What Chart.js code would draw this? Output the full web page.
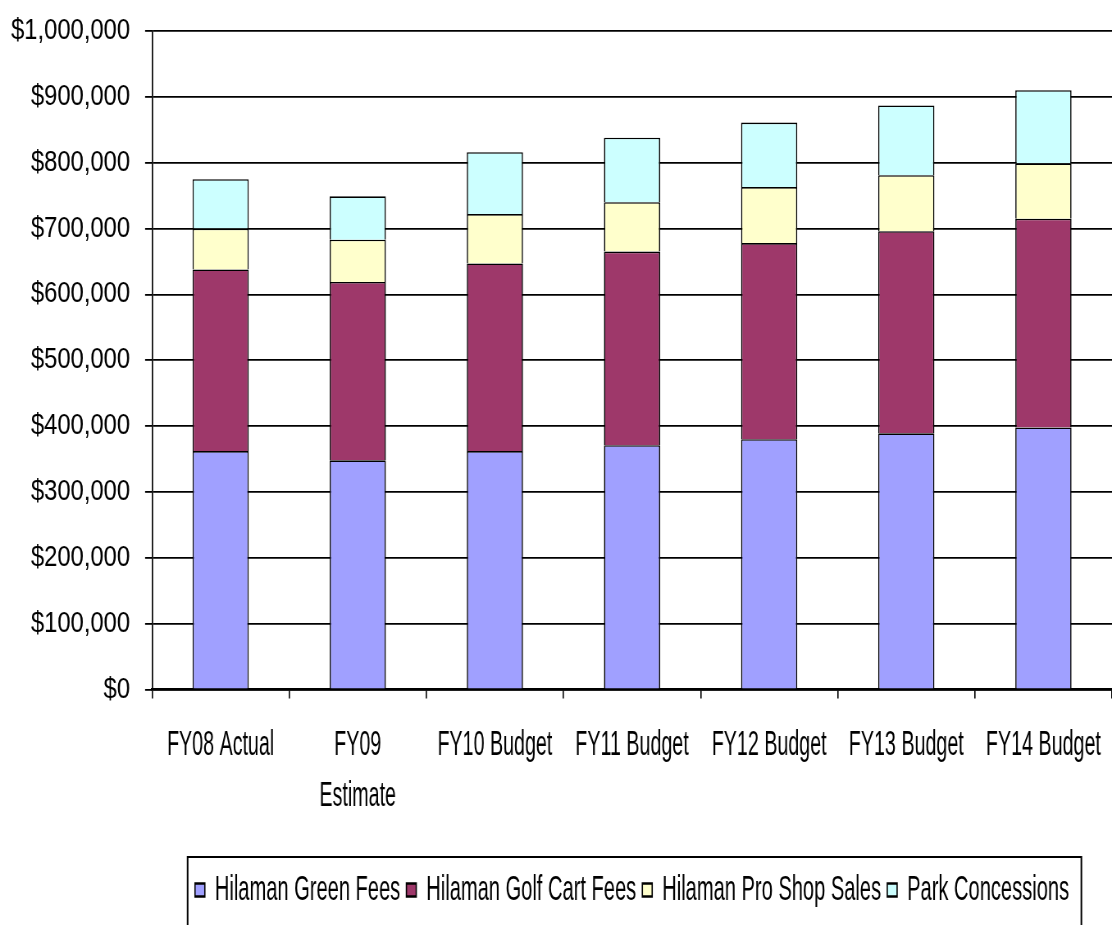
<!DOCTYPE html>
<html>
<head>
<meta charset="utf-8">
<title>Golf Course and Park Revenue</title>
<script src="https://cdn.jsdelivr.net/npm/chart.js@4/dist/chart.umd.min.js"></script>
<style>
  html, body { margin: 0; padding: 0; background: #ffffff; overflow: hidden; }
  /* The drawing surface is wider than its box, so every glyph comes out
     condensed like the narrow face of the original spreadsheet chart. */
  #c { display: block; width: 1112px; height: 925px; }
</style>
</head>
<body>
<canvas id="c" width="1356" height="925" style="width:1112px;height:925px"></canvas>
<script>
// Fiscal years shown along the x axis
const categories = ['FY08 Actual', ['FY09', 'Estimate'], 'FY10 Budget', 'FY11 Budget', 'FY12 Budget', 'FY13 Budget', 'FY14 Budget'];

// Revenue by source, in dollars
const greenFees    = [362000, 348000, 362000, 371000, 380000, 389000, 398000];
const cartFees     = [276000, 271000, 285000, 294000, 298000, 307000, 317000];
const proShopSales = [ 62000,  64000,  75000,  75000,  85000,  85000,  84000];
const concessions  = [ 75000,  66000,  94000,  98000,  98000, 106000, 111000];

const seriesNames = ['Hilaman Green Fees', 'Hilaman Golf Cart Fees', 'Hilaman Pro Shop Sales', 'Park Concessions'];

// Value axis
const yMin = 0;
const yMax = 1000000;
const yStep = 100000;

const FONT = "'Liberation Sans', Arial, sans-serif";
const TALL = 1.45;        // vertical stretch of category and legend lettering
const LABEL_DROP = 19.4;  // extra gap between the axis ticks and the category labels

// Category axis whose labels are drawn in tall lettering
class TallCategoryScale extends Chart.CategoryScale {
  drawLabels(chartArea) {
    const o = this.options;
    const f = Chart.helpers.toFont(o.ticks.font);
    const y0 = this.top + (o.grid.drawTicks ? o.grid.tickLength : 0) + o.ticks.padding + f.lineHeight / 2;
    const ctx = this.ctx;
    ctx.save();
    ctx.translate(0, y0 + LABEL_DROP);
    ctx.scale(1, TALL);
    ctx.translate(0, -y0);
    super.drawLabels(chartArea);
    ctx.restore();
  }
}
TallCategoryScale.id = 'tallCategory';
TallCategoryScale.defaults = Chart.CategoryScale.defaults;
Chart.register(TallCategoryScale);

// Tall legend lettering plus the frame drawn round the legend
const legendStyle = {
  id: 'legendStyle',
  beforeDraw(chart) {
    const lg = chart.legend;
    if (!lg || lg._tallPatched) return;
    const baseDraw = lg.draw.bind(lg);
    lg.draw = function (area) {
      const boxes = this.legendHitBoxes || [];
      if (!boxes.length) { baseDraw(area); return; }
      const cy = boxes[0].top + boxes[0].height / 2;
      const c = this.ctx;
      c.save();
      c.translate(0, cy);
      c.scale(1, TALL);
      c.translate(0, -cy);
      baseDraw(area);
      c.restore();
    };
    lg._tallPatched = true;
  },
  afterDraw(chart) {
    const lg = chart.legend;
    if (!lg || !lg.legendHitBoxes || !lg.legendHitBoxes.length) return;
    const boxes = lg.legendHitBoxes;
    let l = Infinity, r = -Infinity;
    boxes.forEach(b => {
      l = Math.min(l, b.left);
      r = Math.max(r, b.left + b.width);
    });
    const cy = boxes[0].top + boxes[0].height / 2;
    const ctx = chart.ctx;
    ctx.save();
    ctx.strokeStyle = '#000000';
    ctx.lineWidth = 2;
    ctx.strokeRect(l - 9, cy - 33, (r - l) + 24, 80);
    ctx.restore();
  }
};

new Chart(document.getElementById('c'), {
  type: 'bar',
  data: {
    labels: categories,
    datasets: [
      { label: seriesNames[0], data: greenFees,    backgroundColor: '#A0A0FF', borderColor: '#000000', borderWidth: 1.6 },
      { label: seriesNames[1], data: cartFees,     backgroundColor: '#9E386A', borderColor: '#000000', borderWidth: 1.6 },
      { label: seriesNames[2], data: proShopSales, backgroundColor: '#FFFFCC', borderColor: '#000000', borderWidth: 1.6 },
      { label: seriesNames[3], data: concessions,  backgroundColor: '#CCFFFF', borderColor: '#000000', borderWidth: 1.6 }
    ]
  },
  options: {
    responsive: false,
    animation: false,
    devicePixelRatio: 1,
    layout: { padding: { top: 31, left: 0, right: 0, bottom: 12.75 } },
    datasets: { bar: { categoryPercentage: 1.0, barPercentage: 0.41 } },
    scales: {
      x: {
        type: 'tallCategory',
        stacked: true,
        offset: true,
        afterFit(scale) { scale.height = 180.75; },
        grid: {
          offset: true,
          drawOnChartArea: false,
          drawTicks: true,
          tickLength: 9,
          color: '#000000',
          lineWidth: 1.6
        },
        border: { display: true, color: '#000000', width: 2.5 },
        ticks: {
          color: '#000000',
          padding: 10,
          maxRotation: 0,
          autoSkip: false,
          font: { family: FONT, size: 24, lineHeight: 1.466 }
        }
      },
      y: {
        stacked: true,
        min: yMin,
        max: yMax,
        afterFit(scale) { scale.width = 185.4; },
        grid: {
          color: '#000000',
          lineWidth: 1.8,
          drawTicks: true,
          tickLength: 8.5,
          tickWidth: 1.8,
          tickColor: '#000000'
        },
        border: { display: true, color: '#000000', width: 1.7 },
        ticks: {
          stepSize: yStep,
          color: '#000000',
          padding: 18.3,
          font: { family: FONT, size: 29, lineHeight: 0.8 },
          callback: v => '$' + Number(v).toLocaleString('en-US')
        }
      }
    },
    plugins: {
      legend: {
        display: true,
        position: 'bottom',
        align: 'center',
        fullSize: false,
        labels: {
          color: '#000000',
          boxWidth: 12,
          boxHeight: 9,
          padding: 7.5,
          font: { family: FONT, size: 24.5 }
        }
      },
      tooltip: { enabled: false },
      title: { display: false }
    }
  },
  plugins: [legendStyle]
});
</script>
</body>
</html>
